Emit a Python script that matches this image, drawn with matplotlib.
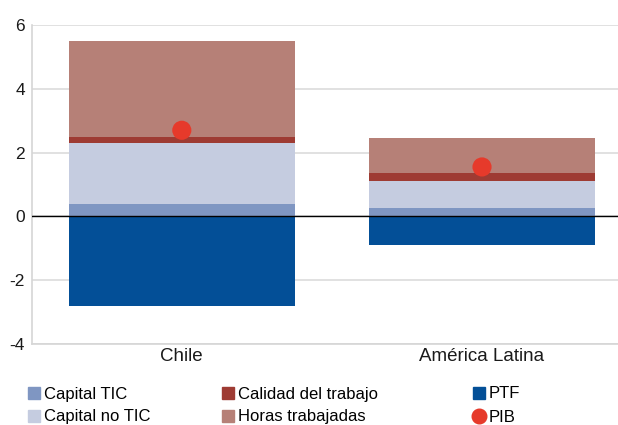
import matplotlib.pyplot as plt
from matplotlib.lines import Line2D
import numpy as np

plt.rcParams['font.family'] = ['Liberation Sans', 'DejaVu Sans']
plt.rcParams['axes.unicode_minus'] = False

# datos
paises = ['Chile', 'América Latina']
capital_tic = [0.39, 0.25]
capital_no_tic = [1.91, 0.85]
calidad_trabajo = [0.19, 0.25]
horas_trabajadas = [3.01, 1.10]
ptf = [-2.82, -0.91]
pib = [2.70, 1.55]

C_TIC = '#7f96c2'
C_NOTIC = '#c5cce0'
C_CAL = '#9e3b33'
C_HORAS = '#b68077'
C_PTF = '#034f97'
C_PIB = '#e63a2b'

fig = plt.figure(figsize=(6.18, 4.25), dpi=100)
ax = fig.add_axes([31.7 / 618, 81 / 425, (618 - 31.7) / 618, 319 / 425])

x = np.arange(len(paises))
w = 0.753

# positivos apilados
base = np.zeros(len(paises))
for vals, col in [(capital_tic, C_TIC), (capital_no_tic, C_NOTIC),
                  (calidad_trabajo, C_CAL), (horas_trabajadas, C_HORAS)]:
    ax.bar(x, vals, w, bottom=base, color=col, zorder=2)
    base = base + np.array(vals)

ax.bar(x, ptf, w, color=C_PTF, zorder=2)
ax.scatter(x, pib, s=190, color=C_PIB, zorder=4, edgecolors='none')

ax.axhline(0, color='black', lw=1, zorder=3)

ax.set_ylim(-4, 6)
ax.set_yticks([-4, -2, 0, 2, 4, 6])
ax.set_xlim(-0.5, 1.453)
ax.set_xticks(x)
ax.set_xticklabels(paises, fontsize=13.5)
ax.yaxis.grid(True, color='#dcdcdc', lw=1.2, zorder=0)
ax.set_axisbelow(True)

for s in ['top', 'right']:
    ax.spines[s].set_visible(False)
ax.spines['left'].set_color('#d6d6d6')
ax.spines['left'].set_linewidth(1.2)
ax.spines['bottom'].set_color('#d6d6d6')
ax.spines['bottom'].set_linewidth(1.2)
ax.tick_params(axis='both', length=0, labelsize=12.5, colors='#1a1a1a')
ax.tick_params(axis='x', labelsize=13.5, pad=3)
ax.tick_params(axis='y', pad=5)

def sq(c):
    return Line2D([], [], marker='s', ls='none', color=c, markersize=8)

pib_h = Line2D([], [], marker='o', ls='none', color=C_PIB, markersize=10.5)

entradas = [
    (sq(C_TIC), 'Capital TIC', 27, 394),
    (sq(C_NOTIC), 'Capital no TIC', 27, 417),
    (sq(C_CAL), 'Calidad del trabajo', 221, 394),
    (sq(C_HORAS), 'Horas trabajadas', 221, 417),
    (sq(C_PTF), 'PTF', 472, 394),
    (pib_h, 'PIB', 472, 417),
]
for h, l, px, py in entradas:
    fig.legend([h], [l], loc='center left', bbox_to_anchor=(px / 618, 1 - py / 425),
               frameon=False, fontsize=12, handlelength=0.8,
               handletextpad=0.22, borderpad=0, borderaxespad=0)

fig.savefig('out.png', dpi=100)
